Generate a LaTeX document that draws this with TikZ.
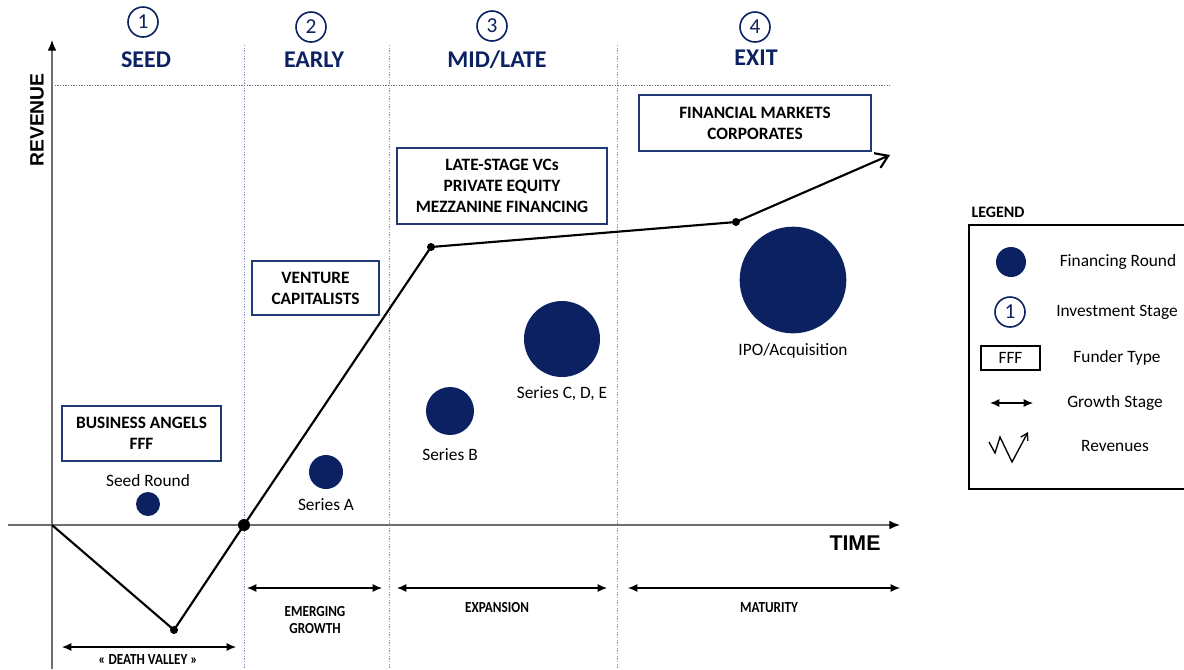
\documentclass[tikz,border=0pt]{standalone}
\usepackage{fontspec}
\setmainfont{Carlito}
\newfontfamily\axisfont{Liberation Sans}
\usetikzlibrary{arrows.meta,positioning,calc}
\definecolor{navy}{HTML}{0B2161}
\definecolor{boxblue}{HTML}{1F3A75}
\definecolor{gridblue}{HTML}{7F93C4}
\definecolor{axisgray}{HTML}{6E6E6E}
\newcommand{\narrow}[1]{\scalebox{0.86}[1]{#1}}

\begin{document}
\begin{tikzpicture}[x=0.75pt,y=-0.75pt,
  fundbox/.style = {shape=rectangle, draw=boxblue, line width=1pt,
    align=center, inner sep=0pt,
    font=\bfseries\fontsize{13}{15.75}\selectfont},
  round/.style = {shape=circle, fill=navy, inner sep=0pt},
  roundlabel/.style = {inner sep=0pt, font=\fontsize{13}{15}\selectfont},
  stagenum/.style = {shape=circle, draw=navy, line width=1.2pt,
    minimum size=22.5pt, inner sep=0pt, text=navy,
    font=\fontsize{16}{16}\selectfont},
  stagename/.style = {text=navy, inner sep=0pt,
    font=\bfseries\fontsize{18}{18}\selectfont},
  growth/.style = {align=center, inner sep=0pt,
    font=\bfseries\fontsize{11.5}{12.5}\selectfont},
  span/.style = {draw, line width=0.9pt, {Latex[length=7pt,width=6pt]}-{Latex[length=7pt,width=6pt]}},
  axis/.style = {draw=axisgray, line width=0.9pt, -{Latex[length=8pt,width=6.5pt,color=black]}},
  line/.style = {draw, line width=1.6pt},
  dot/.style = {shape=circle, fill=black, inner sep=0pt, minimum size=6pt},
  legtext/.style = {inner sep=0pt, font=\fontsize{13}{15}\selectfont}
  ]
  \useasboundingbox (0,0) rectangle (1184,669);

  % grid
  \foreach \gx in {244,389,617}
    \draw[gridblue, line width=0.75pt, dash pattern=on 1pt off 1pt] (\gx,45) -- (\gx,669);
  \draw[axisgray, line width=0.75pt, dash pattern=on 1pt off 1pt] (52,85) -- (890,85);

  % axes
  \coordinate (yfoot) at (52,669);
  \coordinate (ytop) at (52,40);
  \coordinate (xleft) at (8,525);
  \coordinate (xright) at (900,525);
  \draw[axis] (yfoot) -- (ytop);
  \draw[axis] (xleft) -- (xright);
  \node[rotate=90, inner sep=0pt, font=\axisfont\bfseries\fontsize{14.5}{15}\selectfont] (revenue) at (37,120) {REVENUE};
  \node[inner sep=0pt, font=\axisfont\bfseries\fontsize{16}{16}\selectfont] (time) at (855,543) {TIME};

  % stages
  \node[stagenum] (s1) at (143,22) {1};
  \node[stagenum] (s2) at (311,27) {2};
  \node[stagenum] (s3) at (492,26) {3};
  \node[stagenum] (s4) at (755,27) {4};
  \node[stagename] (seed) at (146,60) {SEED};
  \node[stagename] (early) at (314,60) {EARLY};
  \node[stagename] (midlate) at (497,60) {MID/LATE};
  \node[stagename] (exit) at (756,58) {EXIT};

  % funder types
  \node[fundbox, minimum width=119.25pt, minimum height=41.25pt] (angels) at (141.5,433.5) {BUSINESS ANGELS\\FFF};
  \node[fundbox, minimum width=95.25pt, minimum height=40.5pt] (vcs) at (315.5,288) {VENTURE\\CAPITALISTS};
  \node[fundbox, minimum width=157.5pt, minimum height=57pt] (latevc) at (502,186) {LATE-STAGE VCs\\PRIVATE EQUITY\\MEZZANINE FINANCING};
  \node[fundbox, minimum width=174pt, minimum height=42pt] (markets) at (755,123) {FINANCIAL MARKETS\\CORPORATES};

  % financing rounds
  \node[round, minimum size=18pt] (seedround) at (148,504) {};
  \node[round, minimum size=25.5pt] (seriesA) at (326,472) {};
  \node[round, minimum size=36pt] (seriesB) at (450,411) {};
  \node[round, minimum size=57pt] (seriesC) at (562,339) {};
  \node[round, minimum size=80pt] (ipo) at (793,280) {};
  \node[roundlabel, above=4pt of seedround] {Seed Round};
  \node[roundlabel, below=7pt of seriesA] {Series A};
  \node[roundlabel, below=10pt of seriesB] {Series B};
  \node[roundlabel, below=7pt of seriesC] {Series C, D, E};
  \node[roundlabel, below=7pt of ipo] {IPO/Acquisition};

  % revenue curve
  \coordinate (start) at (52,525);
  \node[dot] (dip) at (174,630) {};
  \node[dot, minimum size=9pt] (cross) at (244,525) {};
  \node[dot] (knee) at (431,247) {};
  \node[dot] (flat) at (736,222) {};
  \coordinate (up) at (890,155);
  \draw[line] (start) -- (dip.center) -- (cross.center) -- (knee.center) -- (flat.center);
  \draw[line, -{Straight Barb[length=9pt,width=12pt]}] (flat.center) -- (up);

  % growth stages
  \coordinate (dv1) at (62,647);   \coordinate (dv2) at (236,647);
  \coordinate (em1) at (247,588);  \coordinate (em2) at (382,588);
  \coordinate (ex1) at (397,588);  \coordinate (ex2) at (607,588);
  \coordinate (ma1) at (628,588);  \coordinate (ma2) at (900,588);
  \draw[span] (dv1) -- (dv2);
  \draw[span] (em1) -- (em2);
  \draw[span] (ex1) -- (ex2);
  \draw[span] (ma1) -- (ma2);
  \node[growth] (emerging) at (315,620) {\narrow{EMERGING}\\\narrow{GROWTH}};
  \node[growth] (expansion) at (497,608) {\narrow{EXPANSION}};
  \node[growth] (maturity) at (769,608) {\narrow{MATURITY}};
  \node[growth] (valley) at (148,660) {\narrow{« DEATH VALLEY »}};

  % legend
  \node[inner sep=0pt, font=\bfseries\fontsize{12}{12}\selectfont] (legend) at (998,212) {LEGEND};
  \draw[line width=1pt] (1186,225) -- (969,225) -- (969,489) -- (1186,489);
  \node[round, minimum size=22.5pt] (legdot) at (1011,262) {};
  \node[stagenum] (legnum) at (1010,312) {1};
  \node[draw, line width=0.9pt, minimum width=44.25pt, minimum height=18pt, inner sep=0pt,
    font=\fontsize{13}{13}\selectfont] (legbox) at (1010.5,358) {FFF};
  \coordinate (lega) at (990,403);
  \coordinate (legb) at (1033,403);
  \draw[span] (lega) -- (legb);
  \draw[line width=1pt, -{Straight Barb[length=5pt,width=6pt]}] (989,442) -- (995,453) -- (1000,437) -- (1012,462) -- (1028,432);
  \node[legtext] (legt1) at (1118,262) {Financing Round};
  \node[legtext] (legt2) at (1117,312) {Investment Stage};
  \node[legtext] (legt3) at (1117,358) {Funder Type};
  \node[legtext] (legt4) at (1115,403) {Growth Stage};
  \node[legtext] (legt5) at (1115,446) {Revenues};
\end{tikzpicture}
\end{document}
